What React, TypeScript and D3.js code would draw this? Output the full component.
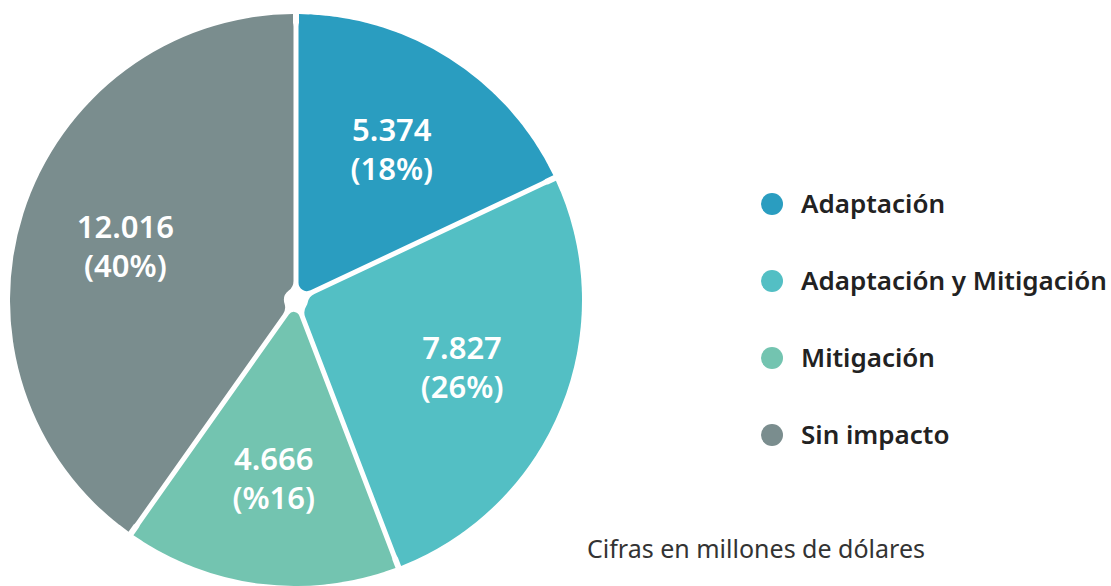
import React from "react";
import * as d3 from "d3";

const categories = ["Adaptación", "Adaptación y Mitigación", "Mitigación", "Sin impacto"];
const values = [5374, 7827, 4666, 12016];
const valueLabels = ["5.374", "7.827", "4.666", "12.016"];
const percentLabels = ["(18%)", "(26%)", "(%16)", "(40%)"];
const colors = ["#2a9dc0", "#53bfc4", "#73c4b0", "#7a8d8e"];
const footnote = "Cifras en millones de dólares";

const W = 1111;
const H = 586;
const cx = 296;
const cy = 300;
const R = 286;
const GAP = 5;
const FONT = "'Noto Sans', 'Open Sans', sans-serif";

export default function App() {
  const pie = d3.pie<number>().sort(null).value((d) => d).startAngle(0).endAngle(2 * Math.PI);
  const arcs = pie(values);
  // rounded inner corners
  const arcRounded = d3
    .arc<d3.PieArcDatum<number>>()
    .innerRadius(12)
    .outerRadius(R)
    .cornerRadius(12)
    .padRadius(R)
    .padAngle(GAP / R);
  // sharp outer corners (kept just inside the rounded shape's sides)
  const arcSharp = d3
    .arc<d3.PieArcDatum<number>>()
    .innerRadius(R * 0.45)
    .outerRadius(R)
    .cornerRadius(0)
    .padRadius(R)
    .padAngle((GAP + 1) / R);
  const labelArc = d3.arc<d3.PieArcDatum<number>>().innerRadius(179).outerRadius(179);
  const legendY = d3.scalePoint<string>().domain(categories).range([204, 435]);

  return (
    <svg width={W} height={H} style={{ position: "absolute", left: 0, top: 0 }}>
      <rect width={W} height={H} fill="#ffffff" />
      <g transform={`translate(${cx},${cy})`}>
        {arcs.map((a, i) => (
          <path key={i} fill={colors[i]} fillRule="nonzero" d={(arcRounded(a) || "") + (arcSharp(a) || "")} />
        ))}
        {arcs.map((a, i) => {
          const [x, y] = labelArc.centroid(a);
          return (
            <text key={"l" + i} transform={`translate(${x},${y})`} fill="#ffffff" fontFamily={FONT} fontWeight={600} fontSize={31} textAnchor="middle">
              <tspan x={0} y={-8}>{valueLabels[i]}</tspan>
              <tspan x={0} y={31}>{percentLabels[i]}</tspan>
            </text>
          );
        })}
      </g>
      {categories.map((c, i) => (
        <g key={"lg" + i} transform={`translate(0,${legendY(c)})`}>
          <circle cx={772} cy={0} r={11} fill={colors[i]} />
          <text x={801} y={9} fontFamily={FONT} fontWeight={600} fontSize={26} fill="#222222">{c}</text>
        </g>
      ))}
      <text x={587} y={558} fontFamily={FONT} fontSize={25} fill="#333333">{footnote}</text>
    </svg>
  );
}
